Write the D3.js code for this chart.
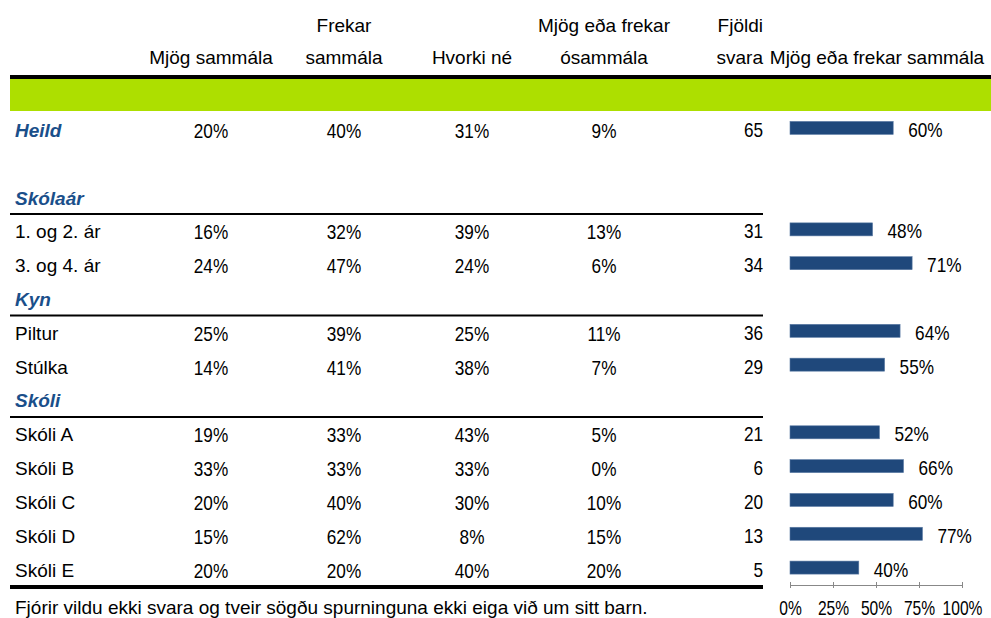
<!DOCTYPE html>
<html>
<head>
<meta charset="utf-8">
<script src="https://cdn.jsdelivr.net/npm/d3@7"></script>
<style>
  body { margin: 0; background: #fff; }
  svg text { font-family: "Liberation Sans", Arial, sans-serif; font-size: 19px; fill: #000; }
  .grp { font-weight: bold; font-style: italic; fill: #1a4f8a; }
  .num { font-size: 20px; }
  .axis text { font-size: 20px; }
  .axis path, .axis line { stroke: #888; }
</style>
</head>
<body>
<svg id="chart"></svg>
<script>
// rows of the table, in order
var rowLabels = ["Heild", "1. og 2. ár", "3. og 4. ár", "Piltur", "Stúlka",
  "Skóli A", "Skóli B", "Skóli C", "Skóli D", "Skóli E"];
var groupLabels = ["Skólaár", "Kyn", "Skóli"];
var groupStart = [1, 3, 5]; // index of first row in each group

var colHeaders = [["", "Mjög sammála"], ["Frekar", "sammála"], ["", "Hvorki né"],
  ["Mjög eða frekar", "ósammála"], ["Fjöldi", "svara"], ["", "Mjög eða frekar sammála"]];

var mjogSammala   = [20, 16, 24, 25, 14, 19, 33, 20, 15, 20];
var frekarSammala = [40, 32, 47, 39, 41, 33, 33, 40, 62, 20];
var hvorkiNe      = [31, 39, 24, 25, 38, 43, 33, 30, 8, 40];
var osammala      = [9, 13, 6, 11, 7, 5, 0, 10, 15, 20];
var fjoldiSvara   = [65, 31, 34, 36, 29, 21, 6, 20, 13, 5];
var sammalaAlls   = [60, 48, 71, 64, 55, 52, 66, 60, 77, 40];

var axisTicks = [0, 25, 50, 75, 100];
var footnote = "Fjórir vildu ekki svara og tveir sögðu spurninguna ekki eiga við um sitt barn.";

var width = 991, height = 618;
var svg = d3.select("#chart").attr("width", width).attr("height", height);

var narrow = 0.86; // numbers in the original are set in a condensed face

function numText(px, py, anchor, str) {
  return svg.append("text").attr("class", "num")
    .attr("transform", "translate(" + px + "," + py + ") scale(" + narrow + ",1)")
    .attr("text-anchor", anchor).text(str);
}

// build slot list: data rows + group header rows + one blank after Heild
var slots = [{ key: "r0", type: "row", i: 0 }, { key: "blank", type: "blank" }];
var g = 0;
for (var i = 1; i < rowLabels.length; i++) {
  if (g < groupStart.length && groupStart[g] === i) {
    slots.push({ key: "g" + g, type: "group", label: groupLabels[g] });
    g++;
  }
  slots.push({ key: "r" + i, type: "row", i: i });
}

var y = d3.scaleBand().domain(slots.map(function(d) { return d.key; })).range([111, 584.5]);
var x = d3.scaleLinear().domain([0, 100]).range([790, 962]);

var colX = [211, 344, 472, 604, 763, 877];
var tableRight = 763;

// header
colHeaders.forEach(function(h, c) {
  var anchor = c === 4 ? "end" : "middle";
  svg.append("text").attr("x", colX[c]).attr("y", 32).attr("text-anchor", anchor).text(h[0]);
  svg.append("text").attr("x", colX[c]).attr("y", 64).attr("text-anchor", anchor).text(h[1]);
});

svg.append("rect").attr("x", 10).attr("y", 75).attr("width", width - 10).attr("height", 4).attr("fill", "#000");
svg.append("rect").attr("x", 10).attr("y", 79).attr("width", width - 10).attr("height", 32).attr("fill", "#addf00");

// rows
var cols = [mjogSammala, frekarSammala, hvorkiNe, osammala];

slots.forEach(function(s) {
  var cy = y(s.key) + y.bandwidth() / 2;
  if (s.type === "group") {
    svg.append("text").attr("class", "grp").attr("x", 15).attr("y", cy + 9).text(s.label);
    svg.append("line").attr("x1", 10).attr("x2", tableRight)
      .attr("y1", y(s.key) + y.bandwidth() + 1.5).attr("y2", y(s.key) + y.bandwidth() + 1.5)
      .attr("stroke", "#000").attr("stroke-width", 2);
  }
  if (s.type === "row") {
    var i = s.i;
    svg.append("text").attr("class", i === 0 ? "grp" : null)
      .attr("x", 15).attr("y", cy + 9).text(rowLabels[i]);
    cols.forEach(function(arr, c) {
      numText(colX[c], cy + 10, "middle", arr[i] + "%");
    });
    numText(colX[4], cy + 9, "end", fjoldiSvara[i]);
  }
});

// bars
var rows = slots.filter(function(s) { return s.type === "row"; });
svg.selectAll("rect.bar").data(rows).enter().append("rect")
  .attr("class", "bar")
  .attr("x", x(0))
  .attr("y", function(d) { return y(d.key) + y.bandwidth() / 2 - 6.5; })
  .attr("width", function(d) { return x(sammalaAlls[d.i]) - x(0); })
  .attr("height", 13)
  .attr("fill", "#1f487b")
  .attr("stroke", "#5a7aa3").attr("stroke-width", 0.6);

rows.forEach(function(d) {
  numText(x(sammalaAlls[d.i]) + 15, y(d.key) + y.bandwidth() / 2 + 9, "start", sammalaAlls[d.i] + "%");
});

// bottom line
svg.append("rect").attr("x", 10).attr("y", 585).attr("width", tableRight - 10).attr("height", 4).attr("fill", "#000");

// axis
var axis = svg.append("g").attr("class", "axis").attr("transform", "translate(0,582)")
  .call(d3.axisBottom(x).tickValues(axisTicks).tickSize(6).tickSizeOuter(0)
    .tickFormat(function(d) { return d + "%"; }));
axis.select(".domain").attr("transform", "translate(0,3)");
axis.selectAll(".tick text").attr("y", 33).attr("dy", 0).attr("fill", "#000")
  .attr("transform", "scale(0.78,1)");

svg.append("text").attr("x", 15).attr("y", 614).text(footnote);
</script>
</body>
</html>
